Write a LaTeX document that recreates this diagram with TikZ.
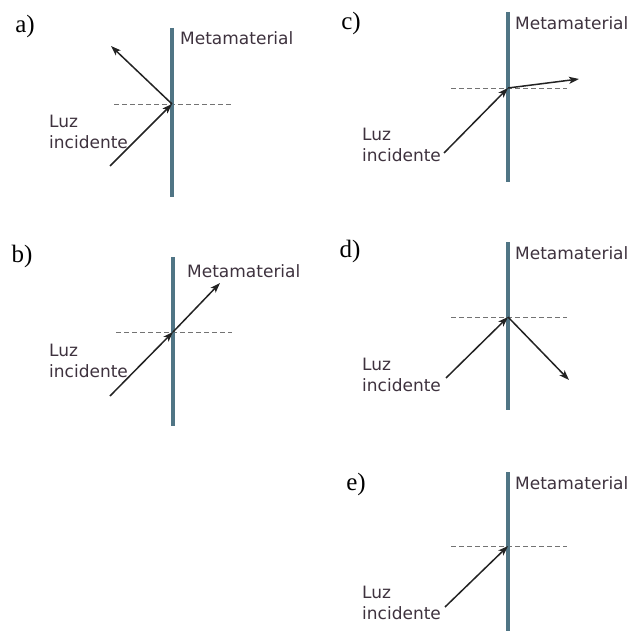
\documentclass[tikz,border=0pt]{standalone}
\usepackage{fontspec}
\setmainfont{Liberation Serif}
\newfontfamily\labelfont{DejaVu Sans}
\usetikzlibrary{arrows.meta}
\definecolor{barblue}{RGB}{80,117,133}
\definecolor{raygray}{RGB}{35,35,35}
\definecolor{txtgray}{RGB}{62,50,62}

\begin{document}
\begin{tikzpicture}[x=1pt, y=-1pt, >={Stealth[length=10pt,width=7pt,inset=2.5pt]},
    meta/.style={anchor=west, inner sep=0pt, text=txtgray, font=\labelfont\fontsize{17}{21}\selectfont},
    luz/.style={anchor=west, inner sep=0pt, align=left, text=txtgray, font=\labelfont\fontsize{17}{21}\selectfont},
    tag/.style={inner sep=0pt, font=\fontsize{25}{27}\selectfont},
    wall/.style={line width=4pt, barblue},
    normal/.style={dash pattern=on 5pt off 3pt, black!55, line width=0.9pt},
    ray/.style={->, raygray, line width=1.5pt}]
    \useasboundingbox (0,0) rectangle (630,631);

    % a) reflexion
    \node[tag] (ta) at (25,26) {a)};
    \coordinate (wa1) at (172,28);  \coordinate (wa2) at (172,197);
    \coordinate (na1) at (114,104); \coordinate (na2) at (232,104);
    \coordinate (ha) at (172,104);
    \coordinate (sa) at (110,166);  \coordinate (ea) at (111,46);
    \draw[normal] (na1) -- (na2);
    \draw[wall] (wa1) -- (wa2);
    \draw[ray] (sa) -- (ha);
    \draw[ray] (ha) -- (ea);
    \node[meta] (ma) at (180,38) {Metamaterial};
    \node[luz] (la) at (49,132) {Luz\\incidente};

    % b) transmision
    \node[tag] (tb) at (22,256) {b)};
    \coordinate (wb1) at (173,257); \coordinate (wb2) at (173,426);
    \coordinate (nb1) at (116,332); \coordinate (nb2) at (232,332);
    \coordinate (hb) at (173,332);
    \coordinate (sb) at (110,396);  \coordinate (eb) at (220,283);
    \draw[normal] (nb1) -- (nb2);
    \draw[wall] (wb1) -- (wb2);
    \draw[ray] (sb) -- (hb);
    \draw[ray] (hb) -- (eb);
    \node[meta] (mb) at (187,271) {Metamaterial};
    \node[luz] (lb) at (49,361) {Luz\\incidente};

    % c) refraccion
    \node[tag] (tc) at (351,23) {c)};
    \coordinate (wc1) at (508,12);  \coordinate (wc2) at (508,182);
    \coordinate (nc1) at (451,88);  \coordinate (nc2) at (567,88);
    \coordinate (hc) at (508,88);
    \coordinate (sc) at (444,153);  \coordinate (ec) at (579,79);
    \draw[normal] (nc1) -- (nc2);
    \draw[wall] (wc1) -- (wc2);
    \draw[ray] (sc) -- (hc);
    \draw[ray] (hc) -- (ec);
    \node[meta] (mc) at (515,23) {Metamaterial};
    \node[luz] (lc) at (362,145) {Luz\\incidente};

    % d) refraccion negativa
    \node[tag] (td) at (350,251) {d)};
    \coordinate (wd1) at (508,242); \coordinate (wd2) at (508,410);
    \coordinate (nd1) at (451,317); \coordinate (nd2) at (567,317);
    \coordinate (hd) at (508,317);
    \coordinate (sd) at (446,378);  \coordinate (ed) at (569,380);
    \draw[normal] (nd1) -- (nd2);
    \draw[wall] (wd1) -- (wd2);
    \draw[ray] (sd) -- (hd);
    \draw[ray] (hd) -- (ed);
    \node[meta] (md) at (515,253) {Metamaterial};
    \node[luz] (ld) at (362,375) {Luz\\incidente};

    % e) absorcion
    \node[tag] (te) at (356,484) {e)};
    \coordinate (we1) at (508,472); \coordinate (we2) at (508,631);
    \coordinate (ne1) at (451,546); \coordinate (ne2) at (567,546);
    \coordinate (he) at (508,546);
    \coordinate (se) at (445,607);
    \draw[normal] (ne1) -- (ne2);
    \draw[wall] (we1) -- (we2);
    \draw[ray] (se) -- (he);
    \node[meta] (me) at (515,483) {Metamaterial};
    \node[luz] (le) at (362,603) {Luz\\incidente};
\end{tikzpicture}
\end{document}
